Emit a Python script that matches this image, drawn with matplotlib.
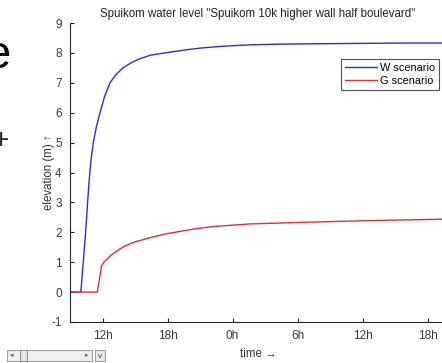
import matplotlib
matplotlib.use("Agg")
import matplotlib.pyplot as plt
from matplotlib.patches import Rectangle

plt.rcParams['font.family'] = ['Liberation Sans', 'DejaVu Sans']

# Water level series (time in hours from the first midnight, elevation in m)
w_time = [9.0, 10.0, 10.4, 10.78, 10.95, 11.15, 11.45, 11.77, 12.2, 12.69,
          13.25, 13.9, 14.6, 15.4, 16.4, 17.77, 19.46, 21.0, 23.0, 25.6,
          28.0, 30.2, 33.0, 36.4, 40.0, 43.7]
w_level = [0.0, 0.0, 1.8, 3.8, 4.45, 5.0, 5.55, 6.0, 6.55, 7.0,
           7.28, 7.5, 7.66, 7.8, 7.92, 8.0, 8.09, 8.16, 8.22, 8.27,
           8.29, 8.3, 8.31, 8.32, 8.33, 8.33]

g_time = [9.0, 11.52, 11.92, 12.2, 12.5, 12.8, 13.15, 13.6, 14.0, 14.5,
          15.0, 15.6, 16.38, 17.77, 19.46, 21.0, 22.5, 25.6, 30.2, 36.4, 43.7]
g_level = [0.0, 0.0, 0.89, 1.03, 1.13, 1.24, 1.33, 1.44, 1.53, 1.61,
           1.68, 1.74, 1.82, 1.94, 2.05, 2.14, 2.2, 2.28, 2.33, 2.39, 2.44]

tick_hours = [12, 18, 24, 30, 36, 42]
tick_labels = ['12h', '18h', '0h', '6h', '12h', '18h']
y_ticks = list(range(-1, 10))

W, H = 442, 363
fig = plt.figure(figsize=(W / 100, H / 100), dpi=100)
ax = fig.add_axes([70 / W, (H - 322) / H, (446 - 70) / W, (322 - 23) / H])

ax.plot(w_time, w_level, color='#2b2bd8', lw=1.0, label='W scenario')
ax.plot(g_time, g_level, color='#dd2f38', lw=1.0, label='G scenario')

ax.set_xlim(9, 43.7)
ax.set_ylim(-1, 9)
ax.set_xticks(tick_hours)
ax.set_xticklabels(tick_labels)
ax.set_yticks(y_ticks)
ax.set_yticklabels([str(v) for v in y_ticks])

axis_col = '#262626'
for side in ('top', 'right'):
    ax.spines[side].set_visible(False)
for side in ('left', 'bottom'):
    ax.spines[side].set_color(axis_col)
    ax.spines[side].set_linewidth(0.8)
ax.tick_params(direction='in', length=3, width=0.8, colors=axis_col,
               labelsize=8.5, labelcolor='#3a3a3a', pad=6)

ax.set_title('Spuikom water level "Spuikom 10k higher wall half boulevard"',
             fontsize=8.3, color='#222222', pad=4)
ax.set_xlabel('time \u2192', fontsize=8.3, color='#333333', labelpad=4)
ax.set_ylabel('elevation (m) \u2191', fontsize=8.3, color='#333333', labelpad=-3)

leg = ax.legend(loc='upper right', bbox_to_anchor=(439 / W, 1 - 59 / H),
                bbox_transform=fig.transFigure, fontsize=7.9, frameon=True,
                fancybox=False, edgecolor='#262626', handlelength=2.9,
                handletextpad=0.3, borderpad=0.35, labelspacing=0.3,
                borderaxespad=0)
leg.get_frame().set_linewidth(0.8)

# Fragments of neighbouring slide text on the left edge
fig.text(-15 / W, 1 - 68 / H, 'e', fontsize=34, color='black', ha='left', va='baseline')
fig.text(-7 / W, 1 - 141 / H, '+', fontsize=20, color='#222222', ha='left', va='center')

# Horizontal scroll bar widget at the bottom left
def px_rect(x, y, w, h, **kw):
    fig.patches.append(Rectangle((x / W, 1 - (y + h) / H), w / W, h / H,
                                 transform=fig.transFigure, figure=fig, **kw))

px_rect(7, 350, 85, 11, facecolor='#f0f0f0', edgecolor='#a0a0a0', lw=0.8)
px_rect(20, 350, 7, 11, facecolor='#e6e6e6', edgecolor='#909090', lw=0.8)
px_rect(95, 350, 10, 11, facecolor='#e8e8e8', edgecolor='#a0a0a0', lw=0.8)
fig.text(12 / W, 1 - 355.5 / H, '\u25c2', fontsize=5, color='#606060', ha='center', va='center')
fig.text(87 / W, 1 - 355.5 / H, '\u25b8', fontsize=5, color='#606060', ha='center', va='center')
fig.text(100 / W, 1 - 356 / H, 'v', fontsize=6, color='#404060', ha='center', va='center')

fig.savefig('out.png', dpi=100)
